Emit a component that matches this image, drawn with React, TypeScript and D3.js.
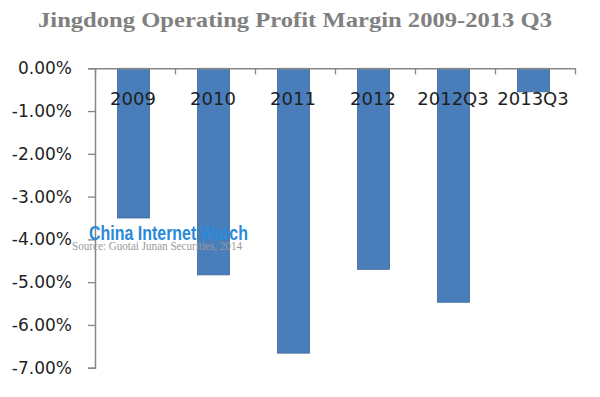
import React, { useRef, useEffect } from 'react';
import * as d3 from 'd3';

const categories = ['2009', '2010', '2011', '2012', '2012Q3', '2013Q3'];
const margins = [-3.5, -4.83, -6.66, -4.7, -5.47, -0.55];
const yTicks = [0, -1, -2, -3, -4, -5, -6, -7];

const W = 600;
const H = 397;

export default function App() {
  const svgRef = useRef<SVGSVGElement>(null);

  useEffect(() => {
    if (!svgRef.current) return;
    const svg = d3.select(svgRef.current);
    svg.selectAll('*').remove();

    const left = 95, right = 575, top = 68.3, bottom = 367.7;

    const x = d3.scaleBand<string>()
      .domain(categories)
      .range([left, right])
      .paddingInner(0.6)
      .paddingOuter(0.3);
    const xEdge = d3.scaleLinear().domain([0, categories.length]).range([left, right]);
    const y = d3.scaleLinear().domain([-7, 0]).range([bottom, top]);

    svg.append('rect').attr('width', W).attr('height', H).attr('fill', '#fff');

    // title
    svg.append('text')
      .attr('x', 295).attr('y', 27)
      .attr('text-anchor', 'middle')
      .attr('font-family', 'Liberation Serif, serif')
      .attr('font-weight', 'bold')
      .attr('font-size', 21)
      .attr('fill', '#808080')
      .attr('textLength', 514)
      .attr('lengthAdjust', 'spacingAndGlyphs')
      .text('Jingdong Operating Profit Margin 2009-2013 Q3');

    // bars
    svg.append('g')
      .selectAll('rect')
      .data(margins)
      .join('rect')
      .attr('x', (_, i) => x(categories[i])! - 1.5)
      .attr('y', y(0))
      .attr('width', x.bandwidth())
      .attr('height', d => y(d) - y(0))
      .attr('fill', '#4a7ebb')
      .attr('stroke', '#3c679a')
      .attr('stroke-width', 0.8);

    // y axis
    const yAxis = d3.axisLeft(y)
      .tickValues(yTicks)
      .tickFormat(d => (d as number).toFixed(2) + '%')
      .tickSize(7)
      .tickPadding(16);
    const gy = svg.append('g').attr('transform', `translate(${left},0)`).call(yAxis);
    gy.select('.domain').attr('stroke', '#868686').attr('stroke-width', 1.5);
    gy.selectAll('.tick line').attr('stroke', '#868686').attr('stroke-width', 1.3);
    gy.selectAll('.tick text')
      .attr('font-family', 'DejaVu Sans, sans-serif')
      .attr('font-size', 17)
      .attr('fill', '#1f1f1f');

    // x axis along zero line
    const xAxis = d3.axisBottom(xEdge)
      .tickValues(d3.range(categories.length + 1))
      .tickFormat(() => '')
      .tickSize(6)
      .tickSizeOuter(0);
    const gx = svg.append('g').attr('transform', `translate(0,${y(0)})`).call(xAxis);
    gx.select('.domain').attr('stroke', '#868686').attr('stroke-width', 1.5);
    gx.selectAll('.tick line').attr('stroke', '#868686').attr('stroke-width', 1.3);

    // category labels
    svg.append('g')
      .selectAll('text')
      .data(categories)
      .join('text')
      .attr('x', d => x(d)! + x.bandwidth() / 2 - 2)
      .attr('y', 105)
      .attr('text-anchor', 'middle')
      .attr('font-family', 'DejaVu Sans, sans-serif')
      .attr('font-size', 18)
      .attr('fill', '#1f1f1f')
      .text(d => d);

    // watermark + source
    svg.append('text')
      .attr('x', 89).attr('y', 240)
      .attr('font-family', 'Liberation Sans, Arial, sans-serif')
      .attr('font-weight', 'bold')
      .attr('font-size', 21)
      .attr('fill', '#2a8ad8')
      .attr('textLength', 159)
      .attr('lengthAdjust', 'spacingAndGlyphs')
      .text('China Internet Watch');
    svg.append('text')
      .attr('x', 72).attr('y', 249.5)
      .attr('font-family', 'Liberation Serif, serif')
      .attr('font-size', 12.5)
      .attr('fill', '#9a9a9a')
      .attr('textLength', 170)
      .attr('lengthAdjust', 'spacingAndGlyphs')
      .text('Source: Guotai Junan Securities, 2014');
  }, []);

  return (
    <svg
      ref={svgRef}
      width={W}
      height={H}
      style={{ position: 'absolute', left: 0, top: 0, display: 'block' }}
    />
  );
}
